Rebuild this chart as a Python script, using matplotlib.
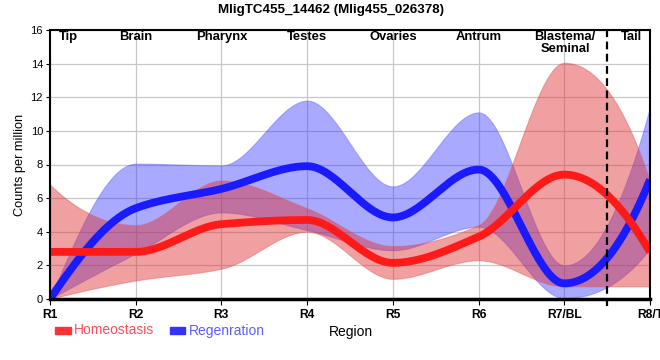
import numpy as np
import matplotlib
matplotlib.use('Agg')
import matplotlib.pyplot as plt
from matplotlib.patches import Rectangle

regions = ['R1', 'R2', 'R3', 'R4', 'R5', 'R6', 'R7/BL', 'R8/T']
tissues = ['Tip', 'Brain', 'Pharynx', 'Testes', 'Ovaries', 'Antrum', 'Blastema/\nSeminal', 'Tail']

homeo = [2.8, 2.8, 4.45, 4.7, 2.15, 3.7, 7.4, 2.8]
homeo_lo = [0.0, 1.1, 1.8, 4.0, 1.2, 2.3, 0.75, 0.75]
homeo_hi = [6.8, 4.4, 7.05, 5.4, 3.15, 4.4, 14.05, 7.0]

regen = [0.0, 5.4, 6.55, 7.9, 4.85, 7.7, 0.93, 7.1]
regen_lo = [0.0, 2.7, 5.15, 4.1, 2.9, 4.3, 0.05, 3.0]
regen_hi = [0.0, 8.05, 7.95, 11.8, 6.7, 11.1, 2.0, 11.4]


def pchip(y, n=400):
    # monotone cubic curve through the points, drawn at x = 0..len-1
    x = np.arange(len(y), dtype=float)
    y = np.asarray(y, dtype=float)
    h = np.diff(x)
    d = np.diff(y) / h
    m = np.zeros_like(y)
    for k in range(1, len(y) - 1):
        if d[k - 1] * d[k] > 0:
            w1 = 2 * h[k] + h[k - 1]
            w2 = h[k] + 2 * h[k - 1]
            m[k] = (w1 + w2) / (w1 / d[k - 1] + w2 / d[k])

    def end(h0, h1, d0, d1):
        s = ((2 * h0 + h1) * d0 - h0 * d1) / (h0 + h1)
        if np.sign(s) != np.sign(d0):
            return 0.0
        if np.sign(d0) != np.sign(d1) and abs(s) > 3 * abs(d0):
            return 3 * d0
        return s

    m[0] = end(h[0], h[1], d[0], d[1])
    m[-1] = end(h[-1], h[-2], d[-1], d[-2])
    xs = np.linspace(x[0], x[-1], n)
    i = np.clip(np.searchsorted(x, xs) - 1, 0, len(x) - 2)
    t = (xs - x[i]) / h[i]
    h00 = 2 * t**3 - 3 * t**2 + 1
    h10 = t**3 - 2 * t**2 + t
    h01 = -2 * t**3 + 3 * t**2
    h11 = t**3 - t**2
    ys = h00 * y[i] + h10 * h[i] * m[i] + h01 * y[i + 1] + h11 * h[i] * m[i + 1]
    return xs, ys


plt.rcParams['font.family'] = ['Liberation Sans', 'DejaVu Sans']

fig = plt.figure(figsize=(6.6, 3.6), dpi=100)
ax = fig.add_axes([50 / 660, 1 - 299 / 360, 600 / 660, 269 / 360])

ax.set_xlim(0, 7)
ax.set_ylim(0, 16)
ax.set_yticks(range(0, 17, 2))
ax.set_xticks(range(len(regions)))
ax.set_xticklabels(regions, fontweight='bold', fontsize=8.7)
ax.tick_params(axis='y', labelsize=8, length=3, pad=2)
ax.tick_params(axis='x', length=4, pad=3)
ax.grid(True, color='#c8c8c8', linewidth=0.9)
ax.set_axisbelow(True)
for s in ax.spines.values():
    s.set_linewidth(1.5)
ax.spines['bottom'].set_linewidth(2.5)

xs, lo = pchip(regen_lo)
_, hi = pchip(regen_hi)
ax.fill_between(xs, lo, hi, color='#3838ff', alpha=0.43, linewidth=0.8, edgecolor='#6060ff')
_, yy = pchip(regen)
ax.plot(xs, yy, color='#1a1aff', linewidth=5.6, solid_capstyle='butt')

_, lo = pchip(homeo_lo)
_, hi = pchip(homeo_hi)
ax.fill_between(xs, lo, hi, color='#df3030', alpha=0.46, linewidth=0.8, edgecolor='#e06060')
_, yy = pchip(homeo)
ax.plot(xs, yy, color='#ff1a1a', linewidth=5.6, solid_capstyle='butt')

ax.axvline(6.5, color='black', linewidth=1.6, linestyle=(0, (3.5, 2)), ymin=-0.025, clip_on=False)

label_x = [0.22, 1, 2, 3, 4, 5, 6.01, 6.78]
for xp, t in zip(label_x, tissues):
    ax.text(xp, 15.92, t, ha='center', va='top', fontweight='bold', fontsize=9.4,
            linespacing=1.0)

ax.set_ylabel('Counts per million', fontsize=9.2, labelpad=3)
fig.text(330.5 / 660, 1 - 9.5 / 360, 'MligTC455_14462 (Mlig455_026378)', ha='center', va='center',
         fontweight='bold', fontsize=9.6)

# legend and axis title below the plot
fig.patches.append(Rectangle((55 / 660, 1 - 334 / 360), 16 / 660, 7 / 360, transform=fig.transFigure,
                             color='#ff3333'))
fig.text(74 / 660, 1 - 330.5 / 360, 'Homeostasis', color='#ff4d5c', fontsize=10, va='center')
fig.patches.append(Rectangle((170 / 660, 1 - 334 / 360), 15 / 660, 7 / 360, transform=fig.transFigure,
                             color='#3333ff'))
fig.text(189 / 660, 1 - 330.5 / 360, 'Regenration', color='#5c5cff', fontsize=10, va='center')
fig.text(351 / 660, 1 - 332 / 360, 'Region', color='black', fontsize=10, va='center', ha='center')

fig.savefig('out.png', dpi=100)
